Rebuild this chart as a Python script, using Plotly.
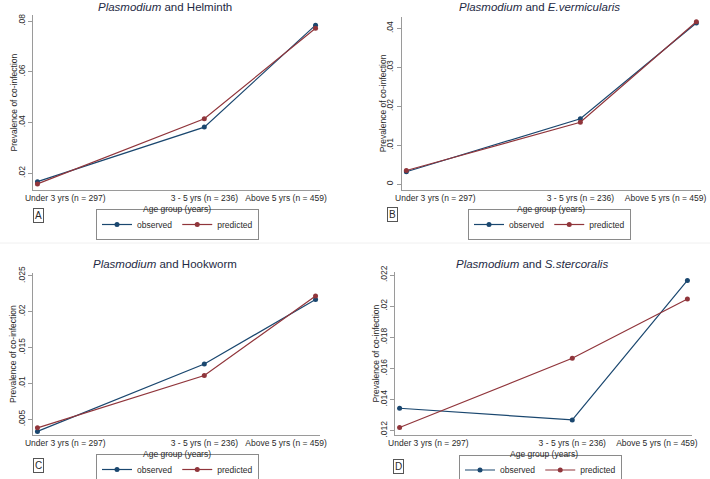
import plotly.graph_objects as go

W, H = 710, 479

# ---------------- data ----------------
age_x = [1, 4, 6]
age_labels = ["Under 3 yrs (n = 297)", "3 - 5 yrs (n = 236)", "Above 5 yrs (n = 459)"]
age_label_pos = [1.5, 4, 5.47]

helminth_obs = [0.0167, 0.0382, 0.0784]
helminth_pred = [0.0158, 0.0415, 0.0772]

everm_obs = [0.0032, 0.0168, 0.0414]
everm_pred = [0.0035, 0.0159, 0.0417]

hook_obs = [0.0033, 0.0127, 0.0217]
hook_pred = [0.0038, 0.0111, 0.0222]

sster_obs = [0.01344, 0.01269, 0.02166]
sster_pred = [0.0122, 0.01665, 0.02046]

yticks_A = [0.02, 0.04, 0.06, 0.08]
yticktext_A = [".02", ".04", ".06", ".08"]
yticks_B = [0, 0.01, 0.02, 0.03, 0.04]
yticktext_B = ["0", ".01", ".02", ".03", ".04"]
yticks_C = [0.005, 0.01, 0.015, 0.02, 0.025]
yticktext_C = [".005", ".01", ".015", ".02", ".025"]
yticks_D = [0.012, 0.014, 0.016, 0.018, 0.02, 0.022]
yticktext_D = [".012", ".014", ".016", ".018", ".02", ".022"]

titles = [
    "<i>Plasmodium</i> and Helminth",
    "<i>Plasmodium</i> and <i>E.vermicularis</i>",
    "<i>Plasmodium</i> and Hookworm",
    "<i>Plasmodium</i> and <i>S.stercoralis</i>",
]
letters = ["A", "B", "C", "D"]

NAVY = "#1a476f"
MAROON = "#90353b"
AXIS = "#9a9a9a"
TXT = "#2a2a2a"
FONT = "Liberation Sans, Arial, sans-serif"


def px(x):
    return x / W


def py(y):
    return 1 - y / H


# panel geometry in pixels: (x0, x1, ytop, ybottom)
panels = [
    dict(dom=(33, 320, 15, 190), yr=(0.0134, 0.0824), obs=helminth_obs, pred=helminth_pred,
         yt=yticks_A, ytt=yticktext_A, title_xy=(165, 7), ytitle_x=13,
         letter_xy=(38, 215.5), legend_xy=(96, 209)),
    dict(dom=(401.7, 701, 16.7, 190), yr=(-0.0015, 0.0430), obs=everm_obs, pred=everm_pred,
         yt=yticks_B, ytt=yticktext_B, title_xy=(539, 7), ytitle_x=383,
         letter_xy=(392, 215), legend_xy=(468, 209)),
    dict(dom=(33, 320, 273, 435), yr=(0.0028, 0.0254), obs=hook_obs, pred=hook_pred,
         yt=yticks_C, ytt=yticktext_C, title_xy=(165, 263.5), ytitle_x=13,
         letter_xy=(38, 465.5), legend_xy=(96, 454)),
    dict(dom=(395, 692, 272, 435), yr=(0.01172, 0.0222), obs=sster_obs, pred=sster_pred,
         yt=yticks_D, ytt=yticktext_D, title_xy=(532, 263.5), ytitle_x=375,
         letter_xy=(398, 466), legend_xy=(459, 454.5)),
]

fig = go.Figure()
annotations = []
layout_axes = {}

for i, p in enumerate(panels):
    k = "" if i == 0 else str(i + 1)
    leg = "legend" if i == 0 else f"legend{i + 1}"
    x0, x1, yt, yb = p["dom"]
    fig.add_trace(go.Scatter(
        x=age_x, y=p["obs"], mode="lines+markers", name="observed",
        line=dict(color=NAVY, width=1.2), marker=dict(color=NAVY, size=5),
        xaxis="x" + k, yaxis="y" + k, legend=leg))
    fig.add_trace(go.Scatter(
        x=age_x, y=p["pred"], mode="lines+markers", name="predicted",
        line=dict(color=MAROON, width=1.2), marker=dict(color=MAROON, size=5),
        xaxis="x" + k, yaxis="y" + k, legend=leg))

    layout_axes["xaxis" + k] = dict(
        domain=[px(x0), px(x1)], range=[0.92, 6.08], anchor="y" + k,
        showline=True, linecolor=AXIS, linewidth=1, ticks="", ticklen=0,
        tickvals=age_label_pos, ticktext=age_labels,
        tickfont=dict(size=8.5, color=TXT, family=FONT), automargin=False,
        showgrid=False, zeroline=False, fixedrange=True)
    layout_axes["yaxis" + k] = dict(
        domain=[py(yb), py(yt)], range=list(p["yr"]), anchor="x" + k,
        showline=True, linecolor=AXIS, linewidth=1,
        ticks="outside", ticklen=4, tickcolor=AXIS, tickwidth=1,
        tickvals=p["yt"], ticktext=p["ytt"], tickangle=-90,
        tickfont=dict(size=8.5, color=TXT, family=FONT), automargin=False,
        showgrid=False, zeroline=False, fixedrange=True)

    layout_axes[leg] = dict(
        x=px(p["legend_xy"][0]), y=py(p["legend_xy"][1]),
        xanchor="left", yanchor="top", orientation="h",
        bordercolor="#8a8a8a", borderwidth=1, bgcolor="white",
        font=dict(size=8.5, color=TXT, family=FONT),
        itemwidth=30, tracegroupgap=0)

    # panel title
    annotations.append(dict(
        text=titles[i], x=px(p["title_xy"][0]), y=py(p["title_xy"][1]),
        xref="paper", yref="paper", xanchor="center", yanchor="middle",
        showarrow=False, font=dict(size=11.5, color="#1e2a44", family=FONT)))
    # y axis title
    annotations.append(dict(
        text="Prevalence of co-infection", textangle=-90,
        x=px(p["ytitle_x"]), y=py((yt + yb) / 2),
        xref="paper", yref="paper", xanchor="center", yanchor="middle",
        showarrow=False, font=dict(size=8.5, color=TXT, family=FONT)))
    # x axis title
    annotations.append(dict(
        text="Age group (years)", x=px((x0 + x1) / 2), y=py(yb + 18.5),
        xref="paper", yref="paper", xanchor="center", yanchor="middle",
        showarrow=False, font=dict(size=8.5, color=TXT, family=FONT)))
    # letter box
    annotations.append(dict(
        text=letters[i], x=px(p["letter_xy"][0]), y=py(p["letter_xy"][1]),
        xref="paper", yref="paper", xanchor="center", yanchor="middle",
        showarrow=False, bordercolor="#555555", borderwidth=1, borderpad=1,
        bgcolor="white", font=dict(size=10, color=TXT, family=FONT)))

fig.update_layout(
    width=W, height=H, margin=dict(l=0, r=0, t=0, b=0, autoexpand=False),
    paper_bgcolor="white", plot_bgcolor="white",
    annotations=annotations,
    shapes=[dict(type="line", xref="paper", yref="paper",
                 x0=0, x1=1, y0=py(243), y1=py(243),
                 line=dict(color="#f0f0f0", width=1))],
    **layout_axes,
)

fig.write_html("out.html", config={"displayModeBar": False},
               post_script="document.body.style.margin='0';document.body.style.padding='0';")
